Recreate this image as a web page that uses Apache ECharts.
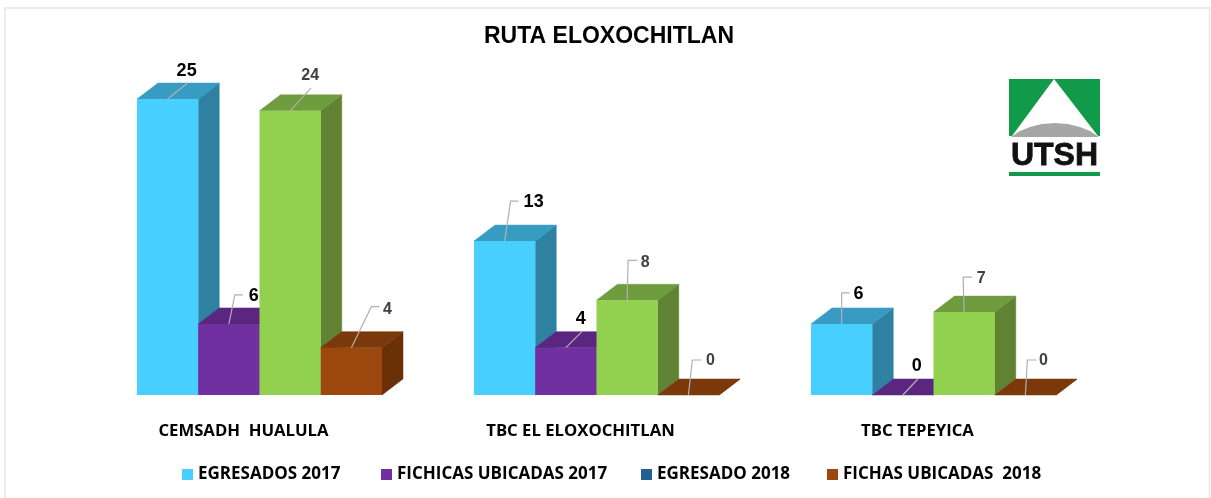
<!DOCTYPE html>
<html>
<head>
<meta charset="utf-8">
<style>html,body{margin:0;padding:0;background:#fff}#c{width:1211px;height:498px}</style>
<script src="https://cdn.jsdelivr.net/npm/echarts@6/dist/echarts.min.js"></script>
</head>
<body>
<div id="c"></div>
<script>
const categories = ['CEMSADH  HUALULA', 'TBC EL ELOXOCHITLAN', 'TBC TEPEYICA'];
const seriesNames = ['EGRESADOS 2017', 'FICHICAS UBICADAS 2017', 'EGRESADO 2018', 'FICHAS UBICADAS  2018'];
const egresados2017 = [25, 13, 6];
const fichicas2017 = [6, 4, 0];
const egresado2018 = [24, 8, 7];
const fichas2018 = [4, 0, 0];

const chart = echarts.init(document.getElementById('c'), null, {renderer: 'canvas'});

const FONT = 'Liberation Sans';
const LEGEND_FONT = 'Open Sans';
const DEPTH = [21, -16];
const GROUP_SHARE = 245 / 337;

// styling per series: faces, label look, leader shapes (offsets from the bar's top-centre)
const styles = [
  {front: '#47cfff', top: '#389cc2', side: '#2e81a0', legend: '#47cfff', text: '#000', size: 18,
   leader: [[[20, -16]], [[6, -40], [14, -40]], [[0, -31], [8, -31]]],
   label: [[19, -28], [29, -39], [17, -30]]},
  {front: '#7030a0', top: '#5a2680', side: '#4b2069', legend: '#7030a0', text: '#000', size: 18,
   leader: [[[6, -29], [14, -29]], [[16, -16]], [[15, -16]]],
   label: [[25, -28], [15, -29], [14, -29]]},
  {front: '#92d050', top: '#6f9c3e', side: '#5f8333', legend: '#255e91', text: '#404040', size: 16,
   leader: [[[21, -23]], [[1, -40], [10, -40]], [[-1, -35], [8, -35]]],
   label: [[20, -35], [18, -38], [17, -34]]},
  {front: '#9c470d', top: '#7b380a', side: '#6a3006', legend: '#9c470d', text: '#404040', size: 16,
   leader: [[[20, -41], [28, -41]], [[4, -35], [13, -35]], [[2, -35], [11, -35]]],
   label: [[36, -38], [22, -34], [18, -34]]}
];

function makeRender(si) {
  return function (params, api) {
    const c = api.value(0);
    const v = api.value(1);
    const top = api.coord([c, v]);
    const base = api.coord([c, 0]);
    const band = api.size([1, 0])[0];
    const w = band * GROUP_SHARE / 4;
    const x0 = top[0] - band * GROUP_SHARE / 2 + si * w;
    const x1 = x0 + w;
    const yt = top[1], yb = base[1];
    const [dx, dy] = DEPTH;
    const s = styles[si];
    const poly = (pts, fill) => ({type: 'polygon', shape: {points: pts}, style: {fill: fill, stroke: fill, lineWidth: 0.5}});
    const cx = x0 + w / 2;
    const pts = [[cx, yt]].concat(s.leader[c].map(p => [cx + p[0], yt + p[1]]));
    const lab = s.label[c];
    return {
      type: 'group',
      children: [
        poly([[x1, yt], [x1 + dx, yt + dy], [x1 + dx, yb + dy], [x1, yb]], s.side),
        poly([[x0, yt], [x0 + dx, yt + dy], [x1 + dx, yt + dy], [x1, yt]], s.top),
        {type: 'rect', shape: {x: x0, y: yt, width: w, height: yb - yt}, style: {fill: s.front}},
        {type: 'polyline', shape: {points: pts}, style: {stroke: '#b0b0b0', lineWidth: 1.2, fill: null}, z2: 20},
        {type: 'text', x: cx + lab[0], y: yt + lab[1], z2: 21,
         style: {text: String(v), fill: s.text, font: 'bold ' + s.size + 'px "' + FONT + '"', align: 'center', verticalAlign: 'middle'}}
      ]
    };
  };
}

const allValues = [egresados2017, fichicas2017, egresado2018, fichas2018];
const legendLeft = [177, 376, 636, 822];

const option = {
  backgroundColor: '#fff',
  animation: false,
  title: {
    text: 'RUTA ELOXOCHITLAN', left: 604, top: 20, textAlign: 'center',
    textStyle: {fontFamily: FONT, fontWeight: 'bold', fontSize: 23, color: '#000'}
  },
  grid: {left: 91, width: 1011, top: 99, height: 296},
  xAxis: {
    type: 'category', data: categories,
    axisLine: {show: false}, axisTick: {show: false},
    axisLabel: {margin: 28, padding: [0, 32, 0, 0], fontFamily: LEGEND_FONT, fontWeight: 'bold', fontSize: 16.7, color: '#000'}
  },
  yAxis: {type: 'value', min: 0, max: 25, show: false},
  legend: seriesNames.map((n, i) => ({
    left: legendLeft[i], top: 461, itemWidth: 11, itemHeight: 11, icon: 'rect',
    selectedMode: false,
    data: [{name: n, itemStyle: {color: styles[i].legend}}],
    textStyle: {fontFamily: LEGEND_FONT, fontWeight: 'bold', fontSize: 17, color: '#000'}
  })),
  series: seriesNames.map((n, i) => ({
    type: 'custom', name: n, clip: false,
    itemStyle: {color: styles[i].legend},
    renderItem: makeRender(i),
    encode: {x: 0, y: 1},
    data: allValues[i].map((v, c) => [c, v])
  })),
  graphic: [
    {type: 'rect', silent: true, z: -10, shape: {x: 5, y: 8, width: 1204.5, height: 500}, style: {fill: 'none', stroke: '#e6e6e6', lineWidth: 1.5}},
    {type: 'rect', shape: {x: 1009, y: 79, width: 91, height: 57}, style: {fill: '#119a49'}},
    {type: 'polygon', shape: {points: [[1054, 79], [1098, 136], [1012, 136]]}, style: {fill: '#fff'}},
    {type: 'polygon', shape: {points: [[1011, 137], [1020, 131], [1030, 127], [1042, 124], [1055, 123], [1068, 124], [1080, 127], [1090, 131], [1099, 137]]}, style: {fill: '#a6a6a6'}},
    {type: 'text', x: 1054.5, y: 156.5, style: {text: 'UTSH', fill: '#111', stroke: '#111', lineWidth: 0.8, font: 'bold 32px "' + FONT + '"', align: 'center', verticalAlign: 'middle'}},
    {type: 'rect', shape: {x: 1009, y: 172, width: 91, height: 4}, style: {fill: '#119a49'}}
  ]
};
chart.setOption(option);
</script>
</body>
</html>
